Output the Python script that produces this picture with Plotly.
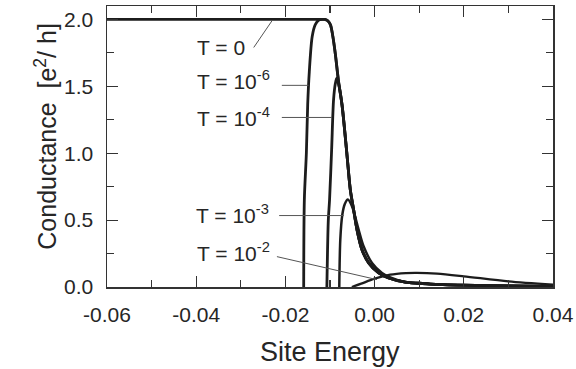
import plotly.graph_objects as go

# ---- data ----
x_T0 = [-0.06, -0.0125, -0.0112, -0.0105, -0.0099, -0.0093, -0.0088, -0.0081, -0.0073, -0.0062,
        -0.00545, -0.00471, -0.00395, -0.00283, -0.00134, 0.0009, 0.00314, 0.0069, 0.01, 0.0125,
        0.02, 0.03, 0.04]
y_T0 = [2.0, 2.0, 2.0, 1.99, 1.96, 1.86, 1.74, 1.54, 1.36, 0.99,
        0.728, 0.579, 0.429, 0.279, 0.18, 0.105, 0.067, 0.036, 0.028, 0.022,
        0.014, 0.008, 0.005]

x_T6 = [-0.0159, -0.01575, -0.0153, -0.0150, -0.01464, -0.0140, -0.0133, -0.0125, -0.0117, -0.0111,
        -0.0105, -0.0099, -0.0093, -0.0088, -0.0081, -0.0073, -0.0062, -0.00545, -0.00471, -0.00395,
        -0.00283, -0.00134, 0.0009, 0.00314, 0.0069, 0.01, 0.0125, 0.02, 0.03, 0.04]
y_T6 = [0.0, 0.653, 1.0, 1.364, 1.61, 1.87, 1.96, 1.995, 2.0, 2.0,
        1.99, 1.96, 1.86, 1.74, 1.54, 1.36, 0.99, 0.728, 0.579, 0.429,
        0.279, 0.18, 0.105, 0.067, 0.036, 0.028, 0.022, 0.014, 0.008, 0.005]

x_T4 = [-0.0107, -0.01038, -0.0101, -0.00963, -0.0092, -0.0088, -0.0085, -0.0081, -0.0073, -0.0062,
        -0.00545, -0.00471, -0.00395, -0.00283, -0.00134, 0.0009, 0.00314, 0.0069, 0.01, 0.0125,
        0.02, 0.03, 0.04]
y_T4 = [0.0, 0.50, 0.65, 1.03, 1.40, 1.52, 1.56, 1.52, 1.36, 0.99,
        0.728, 0.579, 0.429, 0.279, 0.18, 0.105, 0.067, 0.036, 0.028, 0.022,
        0.014, 0.008, 0.005]

x_T3 = [-0.00792, -0.00769, -0.00724, -0.00668, -0.0060, -0.00507, -0.00359, -0.00247, -0.00058,
        0.00166, 0.00352, 0.0069, 0.01, 0.0125, 0.02, 0.03, 0.04]
y_T3 = [0.0, 0.354, 0.54, 0.62, 0.653, 0.603, 0.429, 0.304, 0.18,
        0.105, 0.072, 0.036, 0.028, 0.022, 0.014, 0.008, 0.005]

x_T2 = [-0.0051, -0.003, -0.0002, 0.0035, 0.007, 0.0095, 0.014, 0.02, 0.03, 0.04]
y_T2 = [0.0, 0.025, 0.06, 0.092, 0.104, 0.106, 0.1, 0.08, 0.042, 0.017]

labels = ["T = 0", "T = 10<sup>-6</sup>", "T = 10<sup>-4</sup>", "T = 10<sup>-3</sup>", "T = 10<sup>-2</sup>"]
label_x = [-0.0402, -0.0402, -0.0402, -0.0406, -0.0402]
label_y = [1.79, 1.55, 1.27, 0.545, 0.26]
# leader lines: (x0, y0, x1, y1)
leaders = [(-0.0271, 1.79, -0.0230, 1.99),
           (-0.0208, 1.507, -0.0148, 1.507),
           (-0.0208, 1.267, -0.00955, 1.267),
           (-0.0214, 0.534, -0.0069, 0.534),
           (-0.0219, 0.227, 0.00054, 0.055)]

x_ticks = [-0.06, -0.04, -0.02, 0.00, 0.02, 0.04]
x_ticktext = ["-0.06", "-0.04", "-0.02", "0.00", "0.02", "0.04"]
y_ticks = [0.0, 0.5, 1.0, 1.5, 2.0]
y_ticktext = ["0.0", "0.5", "1.0", "1.5", "2.0"]

FONT = "Liberation Sans, Arial, Helvetica, sans-serif"
INK = "#1c1c1c"
TXT = "#262626"

fig = go.Figure()
series = [(x_T0, y_T0, 2.8), (x_T6, y_T6, 2.8), (x_T4, y_T4, 2.8), (x_T3, y_T3, 2.5), (x_T2, y_T2, 2.3)]
for xs, ys, w in series:
    fig.add_trace(go.Scatter(x=xs, y=ys, mode="lines",
                             line=dict(color=INK, width=w, shape="spline", smoothing=0.8),
                             showlegend=False, hoverinfo="skip", cliponaxis=True))

for (x0, y0, x1, y1) in leaders:
    fig.add_shape(type="line", x0=x0, y0=y0, x1=x1, y1=y1, xref="x", yref="y",
                  line=dict(color="#555555", width=1))

for t, lx, ly in zip(labels, label_x, label_y):
    fig.add_annotation(x=lx, y=ly, text=t, showarrow=False, xanchor="left", yanchor="middle",
                       font=dict(family=FONT, size=21, color=TXT))

fig.add_annotation(x=0.5, y=-0.23, xref="paper", yref="paper", text="Site Energy",
                   showarrow=False, xanchor="center", yanchor="middle",
                   font=dict(family=FONT, size=27, color=TXT))
fig.add_annotation(x=-0.136, y=0.536, xref="paper", yref="paper",
                   text="Conductance  [e<sup>2</sup>/ h]", textangle=-90,
                   showarrow=False, xanchor="center", yanchor="middle",
                   font=dict(family=FONT, size=25, color=TXT))

axis_common = dict(showline=True, mirror="ticks", linecolor="#333333", linewidth=1.5,
                   ticks="inside", ticklen=11, tickwidth=1.2, tickcolor="#333333",
                   showgrid=False, zeroline=False, automargin=False,
                   tickfont=dict(family=FONT, size=21, color=TXT))

fig.update_xaxes(range=[-0.06, 0.04], tickvals=x_ticks, ticktext=x_ticktext,
                 minor=dict(dtick=0.01, tick0=0, ticks="inside", ticklen=7, tickwidth=1.2, tickcolor="#333333"),
                 ticklabelstandoff=8, **axis_common)
fig.update_yaxes(range=[0, 2.1], tickvals=y_ticks, ticktext=y_ticktext,
                 minor=dict(dtick=0.25, tick0=0, ticks="inside", ticklen=7, tickwidth=1.2, tickcolor="#333333"),
                 ticklabelstandoff=8, **axis_common)

fig.update_layout(width=576, height=369, margin=dict(l=107, r=23, t=6, b=82, autoexpand=False),
                  plot_bgcolor="white", paper_bgcolor="white")

fig.write_html("out.html", config={"displayModeBar": False, "staticPlot": True},
               post_script="document.body.style.margin='0px';document.body.style.overflow='hidden';")
